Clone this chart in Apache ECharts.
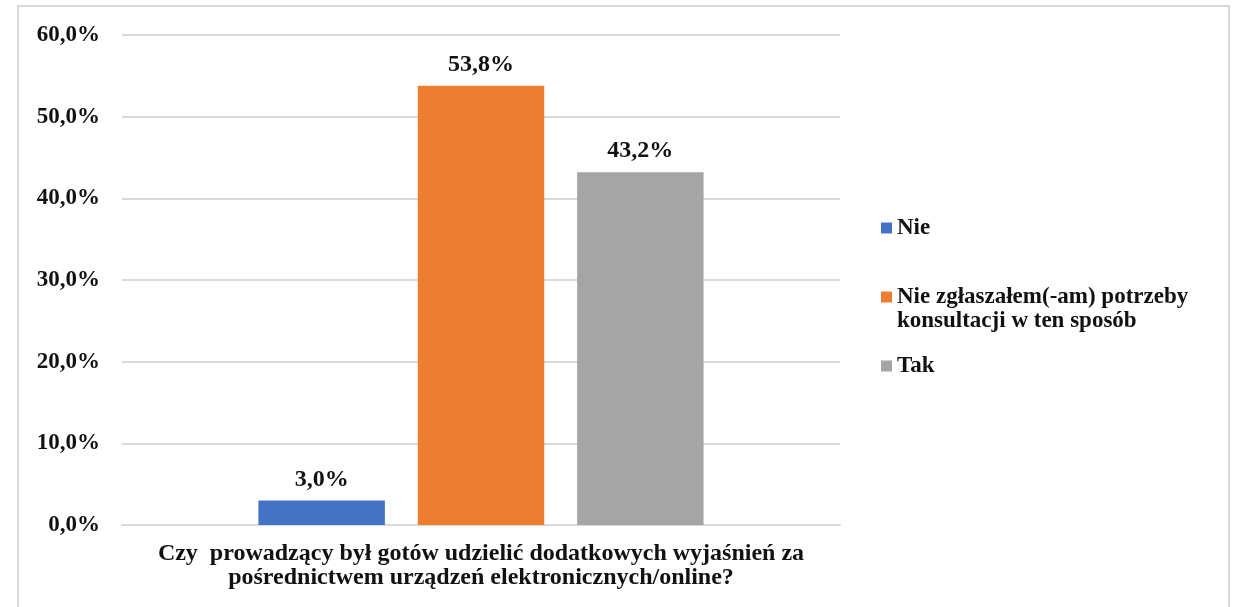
<!DOCTYPE html>
<html>
<head>
<meta charset="utf-8">
<script src="https://cdn.jsdelivr.net/npm/echarts@6/dist/echarts.min.js"></script>
<style>html,body{margin:0;padding:0;background:#fff}#c{width:1236px;height:607px}</style>
</head>
<body>
<div id="c"></div>
<script>
const categories = ['Czy  prowadzący był gotów udzielić dodatkowych wyjaśnień za\npośrednictwem urządzeń elektronicznych/online?'];
const seriesNames = ['Nie', 'Nie zgłaszałem(-am) potrzeby\nkonsultacji w ten sposób', 'Tak'];
const seriesValues = [[3.0], [53.8], [43.2]];
const colors = ['#4472C4', '#ED7D31', '#A5A5A5'];
const yTicks = { min: 0, max: 60, interval: 10 };

const FONT = '"Liberation Serif", "Times New Roman", serif';
const chart = echarts.init(document.getElementById('c'));
const fmtPct = v => v.toFixed(1).replace('.', ',') + '%';

const legendTops = [216, 261, 354];
const legends = seriesNames.map((n, i) => ({
  data: [n],
  orient: 'vertical',
  left: 881,
  top: legendTops[i],
  padding: 0,
  itemWidth: 11,
  itemHeight: 11,
  icon: 'rect',
  selectedMode: false,
  formatter: name => (name.indexOf('\n') >= 0 ? '\u00a0\n' + name : name),
  textStyle: {
    fontFamily: FONT, fontWeight: 'bold', fontSize: 23, color: '#111',
    lineHeight: 24
  }
}));

chart.setOption({
  animation: false,
  color: colors,
  graphic: [{
    type: 'rect', shape: { x: 18, y: 6, width: 1211, height: 640 },
    style: { fill: 'none', stroke: '#d9d9d9', lineWidth: 2 }, silent: true
  }],
  legend: legends,
  grid: { left: 122, right: 396, top: 35, bottom: 82 },
  xAxis: {
    type: 'category', data: categories,
    axisTick: { show: false },
    axisLine: { lineStyle: { color: '#d9d9d9', width: 2 } },
    axisLabel: { fontFamily: FONT, fontWeight: 'bold', fontSize: 24, color: '#111', lineHeight: 24, margin: 17 }
  },
  yAxis: {
    type: 'value', min: yTicks.min, max: yTicks.max, interval: yTicks.interval,
    axisLine: { show: false }, axisTick: { show: false },
    splitLine: { lineStyle: { color: '#d9d9d9', width: 2 } },
    axisLabel: { fontFamily: FONT, fontWeight: 'bold', fontSize: 23, color: '#111', margin: 22, formatter: fmtPct }
  },
  series: seriesNames.map((n, i) => ({
    type: 'bar', name: n, data: seriesValues[i],
    barGap: '26%', barCategoryGap: '38%',
    itemStyle: { color: colors[i] },
    label: {
      show: true, position: 'top', distance: 9,
      fontFamily: FONT, fontWeight: 'bold', fontSize: 24, color: '#111',
      formatter: p => fmtPct(p.value)
    }
  }))
});
</script>
</body>
</html>
